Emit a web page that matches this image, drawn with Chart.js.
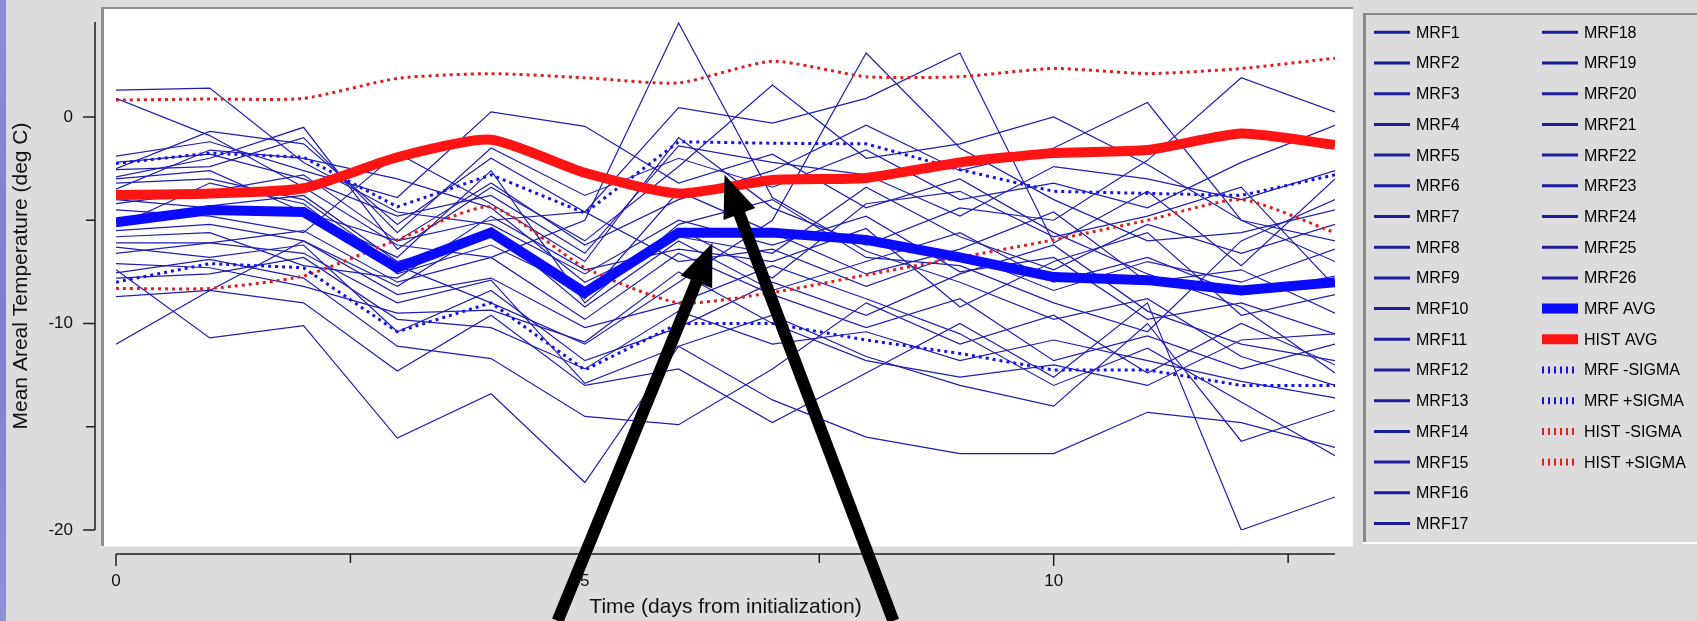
<!DOCTYPE html>
<html>
<head>
<meta charset="utf-8">
<script src="https://cdn.jsdelivr.net/npm/chart.js@4/dist/chart.umd.min.js"></script>
<style>
  html, body { margin: 0; padding: 0; background: #dcdcdc; overflow: hidden; }
  #strip { position: absolute; left: 0; top: 0; width: 6px; height: 621px;
           background: linear-gradient(180deg, #8790d6, #7781cc 50%, #8a93d8); }
  #wrap { position: absolute; left: 0; top: 0; width: 1697px; height: 621px; }
</style>
</head>
<body>
<div id="strip"></div>
<div id="wrap"><canvas id="temp-chart" width="1697" height="621"></canvas></div>
<script>
// days from initialization
const days = [0, 1, 2, 3, 4, 5, 6, 7, 8, 9, 10, 11, 12, 13];

// ensemble members (deg C)
const MRF1  = [1.3, 1.4, -2.2, -4.6, -5.2, -7.6, -5.0, -6.2, -4.8, -7.5, -6.8, -9.8, -9.0, -10.5];
const MRF2  = [0.9, -0.9, -3.4, -6.2, -6.8, -9.8, -6.6, -8.6, -10.2, -8.8, -11.8, -10.6, -12.2, -11.0];
const MRF3  = [-1.9, -1.2, -2.6, -3.9, 0.25, -0.45, -3.2, -1.8, -4.4, -3.0, -5.6, -7.6, -9.2, -12.4];
const MRF4  = [-2.5, -0.7, -1.3, -5.2, -2.0, -4.6, 0.45, -0.3, 0.9, 3.1, -6.1, -3.6, -7.2, -3.0];
const MRF5  = [-2.9, -2.0, -0.5, -6.4, -3.4, -6.0, -2.4, 1.55, -2.0, -1.3, 0.0, -2.3, -5.0, -7.0];
const MRF6  = [-3.2, -3.0, -4.0, -7.2, -9.0, -11.0, -8.0, -5.0, 3.1, -1.5, -4.0, -6.0, -5.6, -4.5];
const MRF7  = [-4.2, -3.6, -2.8, -6.0, -3.2, -6.2, -4.0, -2.6, -0.4, -2.6, -1.5, 0.7, -5.0, -6.0];
const MRF8  = [-4.5, -4.8, -5.6, -1.75, -4.2, -7.0, -1.0, -4.4, -6.2, -4.4, -5.0, -2.1, 1.9, 0.25];
const MRF9  = [-5.5, -5.2, -6.0, -8.6, -7.8, -10.2, -9.0, -7.2, -8.8, -10.5, -13.0, -11.2, -13.8, -16.4];
const MRF10 = [-6.1, -6.1, -6.6, -9.0, -7.9, -12.9, -11.1, -9.6, -11.6, -13.0, -14.0, -10.0, -15.7, -14.2];
const MRF11 = [-6.6, -6.1, -5.5, -8.0, -6.8, -5.0, 4.55, -3.9, -6.5, -8.0, -9.8, -8.8, -11.6, -13.0];
const MRF12 = [-7.1, -7.3, -8.2, -9.5, -9.35, -10.9, -7.5, -10.0, -11.8, -12.6, -12.0, -13.0, -10.8, -10.5];
const MRF13 = [-7.4, -10.7, -10.1, -15.55, -13.4, -17.7, -11.1, -13.7, -15.5, -16.3, -16.3, -14.3, -14.8, -16.0];
const MRF14 = [-7.55, -6.9, -7.8, -11.1, -11.7, -14.5, -14.9, -12.2, -9.0, -11.0, -9.6, -12.4, -10.0, -12.0];
const MRF15 = [-8.7, -8.4, -9.0, -12.3, -9.6, -13.0, -12.2, -14.8, -12.4, -10.0, -12.6, -9.0, -20.0, -18.4];
const MRF16 = [-11.0, -8.4, -6.0, -8.2, -5.4, -9.2, -6.0, -8.4, -7.0, -5.6, -8.0, -6.8, -8.6, -7.7];
const MRF17 = [-2.55, -2.4, -1.0, -5.6, -1.5, -3.8, -2.0, -3.4, -1.6, -4.0, -3.2, -4.4, -2.2, -0.4];
const MRF18 = [-3.5, -1.6, -2.0, -3.0, -4.4, -8.0, -5.8, -6.6, -3.4, -5.8, -7.4, -5.2, -6.6, -5.2];
const MRF19 = [-5.0, -4.3, -3.8, -7.0, -5.8, -8.8, -3.6, -5.6, -7.6, -6.4, -4.6, -8.0, -7.4, -9.5];
const MRF20 = [-5.8, -5.6, -7.2, -7.8, -4.8, -7.4, -6.4, -7.0, -5.4, -9.2, -7.0, -5.6, -9.6, -8.6];
const MRF21 = [-4.0, -4.4, -4.6, -6.8, -2.6, -9.0, -5.2, -4.0, -6.8, -7.2, -9.0, -10.4, -6.0, -4.0];
const MRF22 = [-6.3, -6.8, -6.2, -10.4, -8.4, -11.8, -10.2, -8.0, -9.6, -7.6, -6.2, -9.4, -11.0, -11.8];
const MRF23 = [-2.2, -1.8, -3.0, -4.8, -3.8, -6.6, -1.4, -2.2, -2.8, -4.8, -2.4, -3.0, -4.0, -2.6];
const MRF24 = [-7.8, -7.6, -6.8, -9.8, -10.2, -12.2, -9.4, -11.0, -10.4, -11.8, -10.8, -11.8, -12.8, -13.6];
const MRF25 = [-3.0, -2.6, -4.6, -6.0, -5.0, -4.6, -7.0, -6.4, -8.2, -6.6, -8.4, -7.0, -8.0, -6.4];
const MRF26 = [-5.3, -3.2, -4.2, -7.6, -6.2, -8.4, -5.4, -7.8, -4.2, -3.6, -5.8, -4.8, -3.4, -8.2];

// summary curves
const mrfAvg        = [-5.1, -4.5, -4.6, -7.3, -5.6, -8.5, -5.6, -5.6, -5.95, -6.8, -7.75, -7.9, -8.4, -8.0];
const histAvg       = [-3.78, -3.7, -3.45, -1.95, -1.1, -2.7, -3.7, -3.05, -2.95, -2.2, -1.75, -1.6, -0.8, -1.35];
const mrfMinusSigma = [-8.0, -7.1, -7.3, -10.4, -9.0, -12.25, -10.0, -10.0, -10.8, -11.45, -12.25, -12.25, -13.0, -13.0];
const mrfPlusSigma  = [-2.25, -1.75, -1.95, -4.35, -2.8, -4.65, -1.2, -1.27, -1.3, -2.55, -3.6, -3.7, -3.8, -2.8];
const histMinusSigma = [-8.3, -8.3, -7.7, -5.95, -4.35, -7.3, -9.0, -8.5, -7.65, -6.8, -5.95, -5.0, -4.0, -5.6];
const histPlusSigma  = [0.82, 0.87, 0.9, 1.87, 2.1, 1.9, 1.65, 2.7, 1.95, 1.95, 2.35, 2.1, 2.35, 2.85];

// axis labels
const xTickLabels = [0, 5, 10];
const yTickLabels = [-20, -10, 0];

// annotation arrows, in data units (tail below the axis, tip on the curves)
const arrows = [
  { fromX: 4.71, fromY: -24.4, toX: 6.36, toY: -6.1 },
  { fromX: 8.29, fromY: -24.4, toX: 6.49, toY: -2.8 }
];

const members = [MRF1, MRF2, MRF3, MRF4, MRF5, MRF6, MRF7, MRF8, MRF9, MRF10, MRF11, MRF12, MRF13,
  MRF14, MRF15, MRF16, MRF17, MRF18, MRF19, MRF20, MRF21, MRF22, MRF23, MRF24, MRF25, MRF26];

const FONT = '"Liberation Sans", Arial, Helvetica, sans-serif';
const pts = arr => arr.map((v, i) => ({ x: days[i], y: v }));

const datasets = members.map((m, i) => ({
  label: 'MRF' + (i + 1),
  data: pts(m),
  borderColor: 'rgb(30,30,178)',
  borderWidth: 1.2,
  legendColor: '#1c1c9c',
  legendWidth: 3,
  order: 1
}));
datasets.push(
  { label: 'MRF AVG', data: pts(mrfAvg), borderColor: '#0a0aff', borderWidth: 10,
    legendColor: '#0a0aff', legendWidth: 10, order: 0 },
  { label: 'HIST AVG', data: pts(histAvg), borderColor: '#ff1414', borderWidth: 10, tension: 0.2,
    legendColor: '#ff1414', legendWidth: 10, order: 0 },
  { label: 'MRF -SIGMA', data: pts(mrfMinusSigma), borderColor: '#1414e6', borderWidth: 3,
    borderDash: [3, 4], legendColor: '#1414e6', legendWidth: 7, legendDash: [2, 4], order: 0 },
  { label: 'MRF +SIGMA', data: pts(mrfPlusSigma), borderColor: '#1414e6', borderWidth: 3,
    borderDash: [3, 4], legendColor: '#1414e6', legendWidth: 7, legendDash: [2, 4], order: 0 },
  { label: 'HIST -SIGMA', data: pts(histMinusSigma), borderColor: '#dc2020', borderWidth: 3, tension: 0.2,
    borderDash: [3, 4], legendColor: '#e02020', legendWidth: 7, legendDash: [2, 4], order: 0 },
  { label: 'HIST +SIGMA', data: pts(histPlusSigma), borderColor: '#dc2020', borderWidth: 3, tension: 0.2,
    borderDash: [3, 4], legendColor: '#e02020', legendWidth: 7, legendDash: [2, 4], order: 0 }
);

// white plot panel behind the data
const panel = {
  id: 'panel',
  beforeDraw(chart) {
    const { ctx, chartArea: a } = chart;
    const L = a.left - 15, T = a.top - 15, R = a.right + 18, B = a.bottom + 17;
    ctx.save();
    ctx.fillStyle = '#ffffff';
    ctx.fillRect(L, T, R - L, B - T);
    ctx.fillStyle = '#8e8e8e';
    ctx.fillRect(L, T, 3, B - T);
    ctx.fillRect(L, T, R - L, 2);
    ctx.fillStyle = '#eeeeee';
    ctx.fillRect(L, B - 1, R - L, 1);
    ctx.restore();
  }
};

// detached axis lines with major/minor ticks
const axes = {
  id: 'axes',
  afterDraw(chart) {
    const { ctx, scales: { x, y } } = chart;
    const ax = x.getPixelForValue(x.min) - 21;
    const ay = y.getPixelForValue(y.min) + 24;
    ctx.save();
    ctx.strokeStyle = '#1e1e1e';
    ctx.lineWidth = 1.5;
    ctx.beginPath();
    ctx.moveTo(ax, y.getPixelForValue(y.max));
    ctx.lineTo(ax, y.getPixelForValue(y.min));
    y.ticks.forEach(t => {
      const py = y.getPixelForValue(t.value);
      const len = yTickLabels.includes(t.value) ? 12 : 9;
      ctx.moveTo(ax, py);
      ctx.lineTo(ax - len, py);
    });
    ctx.moveTo(x.getPixelForValue(x.min), ay);
    ctx.lineTo(x.getPixelForValue(x.max), ay);
    x.ticks.forEach(t => {
      const px = x.getPixelForValue(t.value);
      const len = xTickLabels.includes(t.value) ? 12 : 9;
      ctx.moveTo(px, ay);
      ctx.lineTo(px, ay + len);
    });
    ctx.stroke();
    ctx.restore();
  }
};

// two-column legend in a sunken box
const legendBox = {
  id: 'legendBox',
  afterDraw(chart) {
    const { ctx, chartArea: a } = chart;
    const bx = a.right + 28, by = 13, bw = chart.width - bx + 4, bh = 529;
    ctx.save();
    ctx.fillStyle = '#dcdcdc';
    ctx.fillRect(bx, by, bw, bh);
    ctx.fillStyle = '#8a8a8a';
    ctx.fillRect(bx, by, 3, bh);
    ctx.fillRect(bx, by, bw, 2);
    ctx.fillStyle = '#ffffff';
    ctx.fillRect(bx, by + bh, bw, 2);
    ctx.font = '16px ' + FONT;
    ctx.textBaseline = 'middle';
    ctx.fillStyle = '#000000';
    const perCol = 17;
    chart.data.datasets.forEach((ds, i) => {
      const col = Math.floor(i / perCol), row = i % perCol;
      const ry = by + 19.3 + row * 30.7;
      const sx = bx + 11 + col * 168;
      ctx.save();
      ctx.strokeStyle = ds.legendColor;
      ctx.lineWidth = ds.legendWidth;
      ctx.setLineDash(ds.legendDash || []);
      ctx.beginPath();
      ctx.moveTo(sx, ry);
      ctx.lineTo(sx + 36, ry);
      ctx.stroke();
      ctx.restore();
      ctx.fillText(ds.label, sx + 42, ry + 1);
    });
    ctx.restore();
  }
};

// black annotation arrows
const pointers = {
  id: 'pointers',
  afterDraw(chart) {
    const { ctx, scales: { x, y } } = chart;
    ctx.save();
    ctx.fillStyle = '#000000';
    ctx.strokeStyle = '#000000';
    arrows.forEach(ar => {
      const x0 = x.getPixelForValue(ar.fromX), y0 = y.getPixelForValue(ar.fromY);
      const x1 = x.getPixelForValue(ar.toX), y1 = y.getPixelForValue(ar.toY);
      const ang = Math.atan2(y1 - y0, x1 - x0);
      const head = 42, half = 17;
      const hx = x1 - head * Math.cos(ang), hy = y1 - head * Math.sin(ang);
      ctx.lineWidth = 12;
      ctx.beginPath();
      ctx.moveTo(x0, y0);
      ctx.lineTo(hx + 4 * Math.cos(ang), hy + 4 * Math.sin(ang));
      ctx.stroke();
      ctx.beginPath();
      ctx.moveTo(x1, y1);
      ctx.lineTo(hx + half * Math.sin(ang), hy - half * Math.cos(ang));
      ctx.lineTo(hx - half * Math.sin(ang), hy + half * Math.cos(ang));
      ctx.closePath();
      ctx.fill();
    });
    ctx.restore();
  }
};

new Chart(document.getElementById('temp-chart'), {
  type: 'line',
  data: { datasets },
  options: {
    responsive: false,
    animation: false,
    devicePixelRatio: 1,
    layout: { padding: { left: 0, top: 22, right: 362, bottom: 0 } },
    elements: { point: { radius: 0 }, line: { tension: 0, borderCapStyle: 'butt', borderJoinStyle: 'miter' } },
    plugins: { legend: { display: false }, tooltip: { enabled: false } },
    scales: {
      x: {
        type: 'linear',
        min: 0,
        max: 13,
        // tick marks are drawn by the axes plugin; tickLength only pushes the labels down
        grid: { display: false, drawTicks: true, tickLength: 41 },
        border: { display: false },
        ticks: {
          stepSize: 2.5,
          includeBounds: false,
          padding: 0,
          maxRotation: 0,
          autoSkip: false,
          color: '#111111',
          font: { family: FONT, size: 17 },
          callback: v => (xTickLabels.includes(v) ? String(v) : '')
        },
        title: {
          display: true,
          text: 'Time (days from initialization)',
          color: '#111111',
          font: { family: FONT, size: 21 },
          padding: { top: 0, bottom: 1 }
        },
        afterFit: s => { s.height = 91; }
      },
      y: {
        min: -20,
        max: 4.6,
        grid: { display: false, drawTicks: true, tickLength: 43 },
        border: { display: false },
        ticks: {
          stepSize: 5,
          includeBounds: false,
          padding: 0,
          autoSkip: false,
          color: '#111111',
          font: { family: FONT, size: 17 },
          callback: v => (yTickLabels.includes(v) ? String(v) : '')
        },
        title: {
          display: true,
          text: 'Mean Areal Temperature (deg C)',
          color: '#111111',
          font: { family: FONT, size: 21 },
          padding: { top: 9, bottom: 0 }
        },
        afterFit: s => { s.width = 116; }
      }
    }
  },
  plugins: [panel, axes, legendBox, pointers]
});
</script>
</body>
</html>
